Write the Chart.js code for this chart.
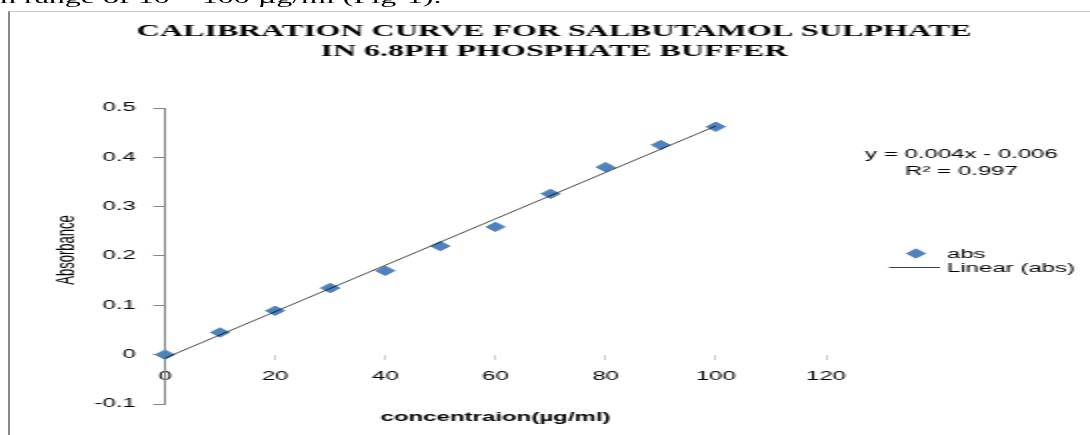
<!DOCTYPE html>
<html>
<head>
<meta charset="utf-8">
<title>Calibration curve for salbutamol sulphate</title>
<script src="https://cdn.jsdelivr.net/npm/chart.js@4.4.1/dist/chart.umd.min.js"></script>
<style>
  html, body { margin: 0; padding: 0; background: #fff; overflow: hidden; }
  body { width: 1090px; height: 435px; position: relative; }
  /* the whole sheet is laid out at half width and stretched 2x horizontally */
  #sheet { position: absolute; left: 0; top: 0; width: 545px; height: 435px;
           transform: scaleX(2); transform-origin: 0 0; overflow: hidden; }
  #lead { position: absolute; left: 0; top: -10px; white-space: nowrap; color: #000;
          font: 16px/16px "Liberation Serif", "Times New Roman", serif; }
  #frame { position: absolute; left: 4px; top: 11px; right: 0; bottom: 0;
           border-left: 1.5px solid #8a8a8a; border-top: 1px solid #c8c8c8; }
  #box { position: absolute; left: 0; top: 0; width: 545px; height: 435px; }
</style>
</head>
<body>
<div id="sheet">
  <div id="lead">n range of 10 – 100 µg/ml (Fig-1).</div>
  <div id="frame"></div>
  <div id="box"><canvas id="chart"></canvas></div>
</div>
<script>
// Concentration (µg/ml) and measured absorbance
const concentration = [0, 10, 20, 30, 40, 50, 60, 70, 80, 90, 100];
const absorbance = [0, 0.045, 0.089, 0.135, 0.170, 0.220, 0.259, 0.326, 0.380, 0.425, 0.462];

// Axis ticks
const xTicks = [0, 20, 40, 60, 80, 100, 120];
const yTicks = [-0.1, 0, 0.1, 0.2, 0.3, 0.4, 0.5];
const yTickLabels = ['-0.1', '0', '0.1', '0.2', '0.3', '0.4', '0.5'];

// Texts
const titleLines = ['CALIBRATION CURVE FOR SALBUTAMOL SULPHATE', 'IN 6.8PH PHOSPHATE BUFFER'];
const xTitle = 'concentraion(µg/ml)';
const yTitle = 'Absorbance';
const equationLines = ['y = 0.004x - 0.006', 'R² = 0.997'];
const seriesName = 'abs';
const trendName = 'Linear (abs)';

// Least-squares line through the measured points
function linearFit(xs, ys) {
  const n = xs.length;
  const mx = xs.reduce((s, v) => s + v, 0) / n;
  const my = ys.reduce((s, v) => s + v, 0) / n;
  let sxy = 0, sxx = 0;
  for (let i = 0; i < n; i++) {
    sxy += (xs[i] - mx) * (ys[i] - my);
    sxx += (xs[i] - mx) * (xs[i] - mx);
  }
  const slope = sxy / sxx;
  return { slope, intercept: my - slope * mx };
}
const fit = linearFit(concentration, absorbance);
const xFirst = concentration[0];
const xLast = concentration[concentration.length - 1];

const BLUE = '#4F81BD';
const SANS = '"Liberation Sans", Arial, sans-serif';
const SERIF = '"Liberation Serif", "Times New Roman", serif';

// Title, axis titles, trendline equation and legend
const annotate = {
  id: 'annotate',
  afterDraw(chart) {
    const { ctx, chartArea: a } = chart;
    ctx.save();
    ctx.fillStyle = '#000';

    // chart title
    ctx.font = 'bold 16px ' + SERIF;
    ctx.textAlign = 'center';
    ctx.textBaseline = 'alphabetic';
    titleLines.forEach((t, i) => ctx.fillText(t, 277, 35.5 + i * 20));

    // x axis title
    ctx.font = 'bold 12px ' + SANS;
    ctx.fillText(xTitle, (a.left + a.right) / 2, 420.5);

    // y axis title
    ctx.save();
    ctx.translate(36.5, 250);
    ctx.rotate(-Math.PI / 2);
    ctx.font = '13px ' + SANS;
    ctx.fillText(yTitle, 0, 0);
    ctx.restore();

    // trendline equation
    ctx.font = '12px ' + SANS;
    ctx.textAlign = 'center';
    equationLines.forEach((t, i) => ctx.fillText(t, 480.75, 158 + i * 17));

    // legend
    const ds = chart.data.datasets;
    ctx.fillStyle = ds[0].backgroundColor;
    ctx.strokeStyle = ds[0].borderColor;
    ctx.lineWidth = 1;
    const mx = 458, my = 253.5, r = 4.7;
    ctx.beginPath();
    ctx.moveTo(mx - r, my);
    ctx.lineTo(mx, my - r);
    ctx.lineTo(mx + r, my);
    ctx.lineTo(mx, my + r);
    ctx.closePath();
    ctx.fill();
    ctx.stroke();

    ctx.strokeStyle = ds[1].borderColor;
    ctx.lineWidth = 0.75;
    ctx.beginPath();
    ctx.moveTo(444.5, 267.5);
    ctx.lineTo(470, 267.5);
    ctx.stroke();

    ctx.fillStyle = '#000';
    ctx.textAlign = 'left';
    ctx.fillText(ds[0].label, 473.5, 258);
    ctx.fillText(ds[1].label, 473.5, 272);
    ctx.restore();
  }
};

new Chart(document.getElementById('chart'), {
  type: 'scatter',
  data: {
    datasets: [
      {
        label: seriesName,
        data: concentration.map((x, i) => ({ x, y: absorbance[i] })),
        pointStyle: 'rectRot',
        pointRadius: 4.7,
        pointHoverRadius: 4.7,
        backgroundColor: BLUE,
        borderColor: BLUE,
        borderWidth: 1,
        clip: false,
        order: 1
      },
      {
        label: trendName,
        type: 'line',
        data: [
          { x: xFirst, y: fit.intercept + fit.slope * xFirst },
          { x: xLast, y: fit.intercept + fit.slope * xLast }
        ],
        borderColor: '#000',
        borderWidth: 0.75,
        pointRadius: 0,
        fill: false,
        clip: false,
        order: 0
      }
    ]
  },
  options: {
    responsive: true,
    maintainAspectRatio: false,
    animation: false,
    events: [],
    layout: { padding: { left: 0, right: 132, top: 108, bottom: 31 } },
    plugins: {
      legend: { display: false },
      title: { display: false },
      tooltip: { enabled: false }
    },
    scales: {
      x: {
        type: 'linear',
        position: { y: 0 },
        min: 0,
        max: 120,
        afterBuildTicks: s => { s.ticks = xTicks.map(value => ({ value })); },
        grid: { drawOnChartArea: false, drawTicks: true, tickLength: 5, tickColor: '#b4b4b4', tickWidth: 0.7 },
        border: { display: false },
        ticks: {
          padding: 10,
          autoSkip: false,
          maxRotation: 0,
          color: '#000',
          font: { family: SANS, size: 12 },
          callback: v => String(v)
        }
      },
      y: {
        type: 'linear',
        min: -0.1,
        max: 0.5,
        afterBuildTicks: s => { s.ticks = yTicks.map(value => ({ value })); },
        afterFit: s => { s.width = 82.5; },
        grid: { drawOnChartArea: false, drawTicks: true, tickLength: 6, tickColor: '#868686', tickWidth: 1 },
        border: { display: true, color: '#868686', width: 1 },
        ticks: {
          padding: 8.5,
          autoSkip: false,
          color: '#000',
          font: { family: SANS, size: 12 },
          callback: (v, i) => yTickLabels[i]
        }
      }
    }
  },
  plugins: [annotate]
});
</script>
</body>
</html>
